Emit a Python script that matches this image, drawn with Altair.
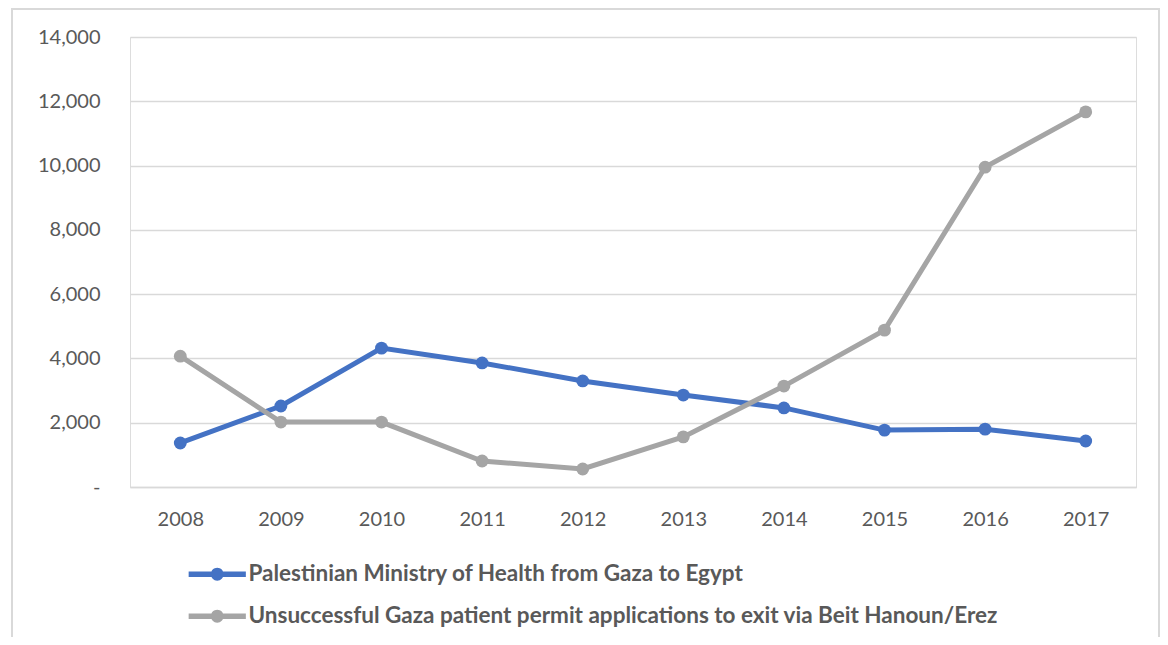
import altair as alt
import pandas as pd

years = ["2008", "2009", "2010", "2011", "2012", "2013", "2014", "2015", "2016", "2017"]
series_names = [
    "Palestinian Ministry of Health from Gaza to Egypt",
    "Unsuccessful Gaza patient permit applications to exit via Beit Hanoun/Erez",
]
moh_egypt = [1370, 2520, 4320, 3860, 3300, 2860, 2460, 1770, 1800, 1430]
erez_denied = [4070, 2020, 2020, 810, 560, 1560, 3140, 4880, 9950, 11670]
colors = ["#4472C4", "#A5A5A5"]
y_ticks = [0, 2000, 4000, 6000, 8000, 10000, 12000, 14000]

rows = []
for name, vals in zip(series_names, [moh_egypt, erez_denied]):
    for yr, v in zip(years, vals):
        rows.append({"Year": yr, "Value": v, "Series": name})
df = pd.DataFrame(rows)

FONT = "Lato"
TXT = "#595959"
GRID = "#D9D9D9"

# line-with-dot legend glyph (path units: scaled by sqrt(symbolSize)/2)
legend_symbol = ("M-2.6,-0.24 L2.6,-0.24 L2.6,0.24 L-2.6,0.24 Z "
                 "M-0.58,0 A0.58,0.58 0 1,1 0.58,0 A0.58,0.58 0 1,1 -0.58,0 Z")

lines = alt.Chart(df).mark_line(
    strokeWidth=5,
    point=alt.OverlayMarkDef(size=165, filled=True, opacity=1),
).encode(
    x=alt.X("Year:O", sort=years, scale=alt.Scale(padding=0.5),
            axis=alt.Axis(title=None, labelAngle=0, grid=False, ticks=False,
                          domain=True, domainColor=GRID, domainWidth=1.5,
                          labelPadding=22, labelFontSize=20, labelFont=FONT,
                          labelColor=TXT)),
    y=alt.Y("Value:Q", scale=alt.Scale(domain=[0, 14000], nice=False),
            axis=alt.Axis(title=None, values=y_ticks, grid=True, gridColor=GRID,
                          gridWidth=1.5, domain=False, ticks=False,
                          labelPadding=30, labelFontSize=20, labelFont=FONT,
                          labelColor=TXT,
                          labelExpr="datum.value == 0 ? '-' : format(datum.value, ',')")),
    color=alt.Color("Series:N", sort=series_names,
                    scale=alt.Scale(domain=series_names, range=colors),
                    legend=alt.Legend(title=None, orient="none", legendX=76,
                                      legendY=526, direction="vertical",
                                      symbolType=legend_symbol, symbolSize=484,
                                      symbolStrokeWidth=0, labelFont=FONT,
                                      labelFontSize=22.5, labelFontWeight="bold",
                                      labelColor=TXT, labelLimit=1000,
                                      rowPadding=19, labelOffset=20,
                                      symbolOpacity=1)),
)

border = alt.Chart(pd.DataFrame({"a": [0]})).mark_rect(
    fill=None, stroke=GRID, strokeWidth=2
).encode(
    x=alt.value(-118), x2=alt.value(1029), y=alt.value(-28), y2=alt.value(640)
)

chart = alt.layer(border, lines).properties(
    width=1006, height=450,
    autosize=alt.AutoSizeParams(type="none"),
    padding={"left": 122, "top": 29, "right": 24, "bottom": 150},
).configure_view(stroke=None).configure(background="white")

chart.save("out.html", embed_options={"renderer": "svg", "actions": False})
